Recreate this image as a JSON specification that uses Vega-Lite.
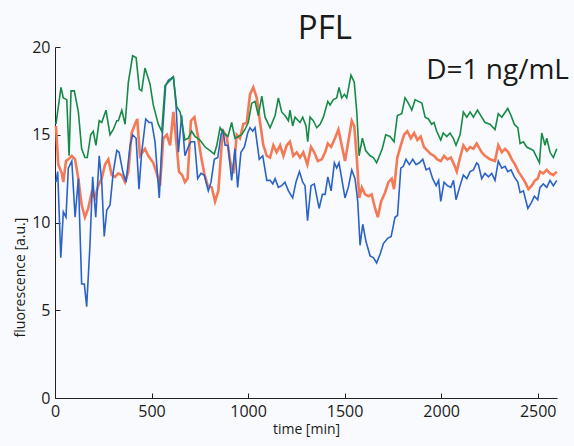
{
  "$schema": "https://vega.github.io/schema/vega-lite/v6.json",
  "autosize": {"type": "none"},
  "width": 502,
  "height": 351,
  "padding": {"left": 55, "top": 47, "right": 17, "bottom": 48},
  "background": "#f9fafd",
  "config": {"view": {"stroke": null}, "font": "Open Sans"},
  "datasets": {
    "green": [
      {"t":5,"v":15.6},{"t":31,"v":17.7},{"t":43,"v":17.1},{"t":61,"v":17.0},{"t":73,"v":13.8},{"t":83,"v":17.5},{"t":100,"v":17.5},{"t":121,"v":16.3},{"t":138,"v":14.2},{"t":155,"v":13.7},{"t":167,"v":13.7},{"t":185,"v":15.0},{"t":198,"v":15.2},{"t":212,"v":14.4},{"t":229,"v":15.8},{"t":242,"v":15.7},{"t":264,"v":16.4},{"t":285,"v":15.0},{"t":302,"v":15.3},{"t":320,"v":15.8},{"t":328,"v":15.8},{"t":346,"v":16.4},{"t":363,"v":15.6},{"t":380,"v":18.0},{"t":402,"v":19.5},{"t":420,"v":19.4},{"t":437,"v":17.6},{"t":449,"v":17.5},{"t":466,"v":18.8},{"t":492,"v":17.9},{"t":509,"v":16.7},{"t":535,"v":15.6},{"t":553,"v":15.2},{"t":570,"v":17.8},{"t":587,"v":18.0},{"t":613,"v":18.3},{"t":630,"v":16.6},{"t":648,"v":16.3},{"t":673,"v":14.7},{"t":690,"v":14.8},{"t":708,"v":15.2},{"t":725,"v":14.9},{"t":751,"v":14.7},{"t":777,"v":14.3},{"t":803,"v":14.1},{"t":825,"v":13.9},{"t":838,"v":14.4},{"t":855,"v":15.4},{"t":872,"v":15.1},{"t":896,"v":14.9},{"t":915,"v":15.7},{"t":932,"v":14.8},{"t":950,"v":14.9},{"t":967,"v":15.0},{"t":984,"v":15.3},{"t":1001,"v":15.7},{"t":1019,"v":16.8},{"t":1036,"v":16.9},{"t":1053,"v":16.1},{"t":1071,"v":17.2},{"t":1088,"v":16.0},{"t":1114,"v":15.4},{"t":1140,"v":16.1},{"t":1157,"v":17.1},{"t":1174,"v":16.3},{"t":1191,"v":16.1},{"t":1209,"v":15.8},{"t":1217,"v":16.4},{"t":1231,"v":15.5},{"t":1243,"v":16.0},{"t":1269,"v":15.7},{"t":1283,"v":16.0},{"t":1300,"v":15.5},{"t":1309,"v":14.6},{"t":1321,"v":16.0},{"t":1338,"v":15.8},{"t":1356,"v":15.4},{"t":1373,"v":15.6},{"t":1390,"v":16.0},{"t":1413,"v":16.9},{"t":1425,"v":16.7},{"t":1442,"v":17.0},{"t":1459,"v":17.1},{"t":1471,"v":17.7},{"t":1485,"v":17.1},{"t":1499,"v":17.3},{"t":1511,"v":17.1},{"t":1533,"v":18.4},{"t":1550,"v":18.0},{"t":1563,"v":16.3},{"t":1575,"v":13.8},{"t":1592,"v":14.8},{"t":1609,"v":14.1},{"t":1632,"v":13.8},{"t":1649,"v":13.7},{"t":1666,"v":13.4},{"t":1695,"v":14.2},{"t":1713,"v":15.0},{"t":1735,"v":14.9},{"t":1756,"v":14.6},{"t":1773,"v":16.1},{"t":1796,"v":16.2},{"t":1813,"v":17.1},{"t":1830,"v":16.8},{"t":1848,"v":16.4},{"t":1865,"v":17.0},{"t":1882,"v":16.9},{"t":1900,"v":16.8},{"t":1917,"v":16.0},{"t":1934,"v":15.9},{"t":1951,"v":15.6},{"t":1963,"v":15.7},{"t":1977,"v":15.2},{"t":1998,"v":14.7},{"t":2011,"v":15.1},{"t":2029,"v":14.9},{"t":2046,"v":15.1},{"t":2063,"v":14.8},{"t":2077,"v":14.4},{"t":2098,"v":15.0},{"t":2115,"v":16.3},{"t":2133,"v":16.0},{"t":2150,"v":16.3},{"t":2167,"v":16.0},{"t":2188,"v":16.4},{"t":2210,"v":16.0},{"t":2227,"v":15.7},{"t":2253,"v":15.6},{"t":2279,"v":15.3},{"t":2296,"v":16.2},{"t":2314,"v":16.0},{"t":2345,"v":16.5},{"t":2362,"v":16.1},{"t":2379,"v":15.6},{"t":2397,"v":15.4},{"t":2409,"v":14.5},{"t":2426,"v":14.6},{"t":2443,"v":14.3},{"t":2461,"v":14.2},{"t":2478,"v":14.1},{"t":2509,"v":13.4},{"t":2521,"v":15.1},{"t":2538,"v":14.4},{"t":2547,"v":14.8},{"t":2564,"v":14.0},{"t":2581,"v":13.7},{"t":2599,"v":14.2}
    ],
    "orange": [
      {"t":5,"v":15.5},{"t":17,"v":13.3},{"t":35,"v":12.8},{"t":43,"v":12.3},{"t":57,"v":13.5},{"t":69,"v":13.6},{"t":87,"v":13.8},{"t":104,"v":13.6},{"t":121,"v":12.5},{"t":138,"v":11.0},{"t":155,"v":10.3},{"t":172,"v":10.8},{"t":190,"v":11.7},{"t":207,"v":11.4},{"t":224,"v":12.1},{"t":242,"v":12.5},{"t":259,"v":13.3},{"t":276,"v":13.6},{"t":294,"v":12.7},{"t":311,"v":12.6},{"t":328,"v":12.8},{"t":346,"v":12.7},{"t":363,"v":12.3},{"t":380,"v":12.9},{"t":397,"v":15.1},{"t":414,"v":15.6},{"t":426,"v":15.9},{"t":440,"v":13.8},{"t":466,"v":14.2},{"t":483,"v":13.8},{"t":509,"v":13.4},{"t":527,"v":12.8},{"t":544,"v":12.1},{"t":561,"v":14.8},{"t":579,"v":15.0},{"t":596,"v":14.4},{"t":613,"v":16.3},{"t":630,"v":14.4},{"t":642,"v":12.9},{"t":659,"v":12.7},{"t":673,"v":12.3},{"t":687,"v":12.5},{"t":704,"v":15.8},{"t":722,"v":16.0},{"t":739,"v":15.0},{"t":756,"v":13.8},{"t":773,"v":12.8},{"t":791,"v":12.1},{"t":812,"v":12.0},{"t":829,"v":11.2},{"t":846,"v":11.8},{"t":863,"v":14.4},{"t":872,"v":15.2},{"t":889,"v":14.9},{"t":907,"v":13.5},{"t":924,"v":12.8},{"t":941,"v":15.0},{"t":958,"v":14.8},{"t":975,"v":15.6},{"t":993,"v":15.7},{"t":1010,"v":17.3},{"t":1027,"v":17.7},{"t":1045,"v":17.1},{"t":1062,"v":15.7},{"t":1079,"v":14.4},{"t":1097,"v":13.8},{"t":1114,"v":13.7},{"t":1131,"v":14.4},{"t":1148,"v":14.0},{"t":1166,"v":14.4},{"t":1183,"v":13.8},{"t":1200,"v":14.4},{"t":1217,"v":14.6},{"t":1234,"v":13.8},{"t":1252,"v":14.0},{"t":1269,"v":13.7},{"t":1286,"v":14.0},{"t":1307,"v":13.3},{"t":1326,"v":14.3},{"t":1343,"v":14.0},{"t":1361,"v":13.5},{"t":1382,"v":13.6},{"t":1399,"v":14.0},{"t":1413,"v":14.5},{"t":1430,"v":14.3},{"t":1450,"v":14.8},{"t":1468,"v":15.3},{"t":1485,"v":14.4},{"t":1502,"v":13.5},{"t":1519,"v":14.6},{"t":1537,"v":15.8},{"t":1550,"v":15.5},{"t":1563,"v":13.7},{"t":1576,"v":11.4},{"t":1589,"v":12.0},{"t":1606,"v":11.6},{"t":1623,"v":11.5},{"t":1640,"v":11.6},{"t":1658,"v":10.8},{"t":1672,"v":10.3},{"t":1689,"v":11.2},{"t":1709,"v":11.7},{"t":1727,"v":12.3},{"t":1744,"v":12.5},{"t":1756,"v":11.9},{"t":1773,"v":13.7},{"t":1791,"v":14.4},{"t":1808,"v":15.0},{"t":1825,"v":15.2},{"t":1843,"v":14.8},{"t":1860,"v":15.1},{"t":1877,"v":14.7},{"t":1894,"v":14.9},{"t":1911,"v":14.3},{"t":1929,"v":14.1},{"t":1946,"v":13.9},{"t":1963,"v":13.8},{"t":1980,"v":13.6},{"t":1998,"v":13.5},{"t":2015,"v":13.8},{"t":2032,"v":13.6},{"t":2050,"v":13.7},{"t":2067,"v":13.3},{"t":2081,"v":12.9},{"t":2098,"v":13.7},{"t":2115,"v":14.4},{"t":2133,"v":14.1},{"t":2150,"v":14.3},{"t":2167,"v":14.2},{"t":2184,"v":14.5},{"t":2210,"v":14.0},{"t":2227,"v":13.8},{"t":2253,"v":13.6},{"t":2279,"v":13.5},{"t":2296,"v":14.4},{"t":2314,"v":14.0},{"t":2331,"v":14.2},{"t":2348,"v":14.0},{"t":2366,"v":13.6},{"t":2383,"v":13.3},{"t":2400,"v":12.9},{"t":2418,"v":12.6},{"t":2435,"v":12.3},{"t":2452,"v":11.9},{"t":2469,"v":12.1},{"t":2486,"v":12.4},{"t":2500,"v":12.5},{"t":2512,"v":12.9},{"t":2529,"v":12.8},{"t":2547,"v":13.0},{"t":2564,"v":12.8},{"t":2581,"v":12.7},{"t":2599,"v":12.9}
    ],
    "blue": [
      {"t":5,"v":12.3},{"t":14,"v":12.9},{"t":30,"v":8.0},{"t":43,"v":10.6},{"t":57,"v":10.3},{"t":69,"v":13.1},{"t":87,"v":13.5},{"t":104,"v":10.3},{"t":121,"v":12.5},{"t":138,"v":6.5},{"t":152,"v":6.5},{"t":164,"v":5.2},{"t":181,"v":8.7},{"t":195,"v":12.6},{"t":211,"v":10.3},{"t":229,"v":13.8},{"t":242,"v":12.3},{"t":255,"v":9.2},{"t":268,"v":10.7},{"t":285,"v":11.0},{"t":302,"v":12.9},{"t":320,"v":14.1},{"t":332,"v":14.0},{"t":351,"v":12.9},{"t":368,"v":12.3},{"t":389,"v":14.4},{"t":402,"v":15.0},{"t":420,"v":14.8},{"t":435,"v":11.9},{"t":449,"v":14.0},{"t":470,"v":15.9},{"t":487,"v":15.7},{"t":501,"v":15.7},{"t":518,"v":14.6},{"t":540,"v":11.4},{"t":556,"v":15.0},{"t":573,"v":17.8},{"t":587,"v":18.1},{"t":613,"v":18.3},{"t":627,"v":16.7},{"t":639,"v":14.0},{"t":656,"v":16.1},{"t":673,"v":13.8},{"t":690,"v":14.3},{"t":704,"v":14.6},{"t":723,"v":14.6},{"t":739,"v":12.5},{"t":756,"v":12.8},{"t":773,"v":12.7},{"t":794,"v":11.8},{"t":808,"v":12.3},{"t":825,"v":13.6},{"t":843,"v":13.7},{"t":860,"v":15.0},{"t":870,"v":15.3},{"t":881,"v":14.4},{"t":896,"v":14.4},{"t":915,"v":12.4},{"t":932,"v":14.2},{"t":946,"v":12.0},{"t":963,"v":14.0},{"t":981,"v":14.3},{"t":998,"v":15.1},{"t":1010,"v":15.4},{"t":1024,"v":15.2},{"t":1036,"v":15.4},{"t":1058,"v":13.6},{"t":1076,"v":13.8},{"t":1097,"v":12.4},{"t":1114,"v":12.4},{"t":1128,"v":12.2},{"t":1140,"v":12.5},{"t":1157,"v":12.0},{"t":1174,"v":12.1},{"t":1191,"v":12.3},{"t":1209,"v":11.8},{"t":1231,"v":11.4},{"t":1248,"v":12.3},{"t":1266,"v":12.9},{"t":1283,"v":12.3},{"t":1295,"v":12.1},{"t":1308,"v":10.1},{"t":1326,"v":12.1},{"t":1343,"v":12.2},{"t":1368,"v":10.8},{"t":1385,"v":11.6},{"t":1399,"v":11.6},{"t":1413,"v":12.6},{"t":1430,"v":11.8},{"t":1447,"v":13.4},{"t":1459,"v":13.1},{"t":1471,"v":13.4},{"t":1485,"v":12.5},{"t":1502,"v":11.4},{"t":1519,"v":12.0},{"t":1537,"v":13.0},{"t":1554,"v":12.5},{"t":1568,"v":11.2},{"t":1580,"v":8.7},{"t":1594,"v":9.9},{"t":1611,"v":8.9},{"t":1632,"v":8.1},{"t":1649,"v":8.0},{"t":1666,"v":7.7},{"t":1684,"v":8.2},{"t":1701,"v":8.8},{"t":1723,"v":9.1},{"t":1741,"v":9.2},{"t":1761,"v":10.3},{"t":1774,"v":10.4},{"t":1791,"v":13.1},{"t":1804,"v":13.2},{"t":1818,"v":13.6},{"t":1835,"v":13.3},{"t":1853,"v":13.6},{"t":1870,"v":13.3},{"t":1887,"v":13.4},{"t":1905,"v":13.6},{"t":1922,"v":13.0},{"t":1939,"v":13.1},{"t":1956,"v":12.5},{"t":1974,"v":12.1},{"t":1987,"v":12.4},{"t":1998,"v":11.2},{"t":2015,"v":12.3},{"t":2032,"v":12.1},{"t":2050,"v":12.0},{"t":2064,"v":12.4},{"t":2077,"v":11.3},{"t":2098,"v":12.1},{"t":2115,"v":12.7},{"t":2133,"v":12.5},{"t":2150,"v":12.9},{"t":2167,"v":13.0},{"t":2184,"v":13.4},{"t":2193,"v":13.3},{"t":2210,"v":12.5},{"t":2227,"v":12.8},{"t":2245,"v":12.6},{"t":2262,"v":12.8},{"t":2279,"v":12.4},{"t":2296,"v":13.5},{"t":2314,"v":13.1},{"t":2331,"v":13.2},{"t":2345,"v":12.9},{"t":2362,"v":13.0},{"t":2379,"v":12.6},{"t":2397,"v":12.3},{"t":2409,"v":11.7},{"t":2426,"v":11.8},{"t":2449,"v":10.8},{"t":2466,"v":11.1},{"t":2483,"v":11.5},{"t":2500,"v":11.3},{"t":2512,"v":12.0},{"t":2529,"v":12.2},{"t":2547,"v":12.0},{"t":2564,"v":12.4},{"t":2581,"v":12.1},{"t":2599,"v":12.4}
    ],
    "titles": [
      {"text": "PFL", "t": 1398, "v": 20.45, "kind": "title"},
      {"text": "D=1 ng/mL", "t": 2662, "v": 18.2, "kind": "dose"}
    ]
  },
  "encoding": {
    "x": {"field": "t", "type": "quantitative", "scale": {"domain": [0, 2600], "nice": false},
      "axis": {"title": "time [min]", "values": [0, 500, 1000, 1500, 2000, 2500], "format": "d", "grid": false, "tickSize": -5, "labelPadding": 10, "labelFontSize": 16, "labelColor": "#1a1a1a", "titleFontSize": 14, "titleFontWeight": "normal", "titleColor": "#1a1a1a", "titlePadding": 3, "domainColor": "#222", "tickColor": "#222", "labelFlush": false}},
    "y": {"field": "v", "type": "quantitative", "scale": {"domain": [0, 20], "nice": false},
      "axis": {"title": "fluorescence [a.u.]", "values": [0, 5, 10, 15, 20], "format": "d", "grid": false, "tickSize": -5, "labelPadding": 10, "labelFontSize": 16, "labelColor": "#1a1a1a", "titleFontSize": 14, "titleFontWeight": "normal", "titleColor": "#1a1a1a", "titlePadding": 4, "titleY": 230, "domainColor": "#222", "tickColor": "#222", "labelFlush": false}}
  },
  "layer": [
    {"data": {"name": "orange"}, "mark": {"type": "line", "color": "#f47a55", "strokeWidth": 2.6}},
    {"data": {"name": "blue"}, "mark": {"type": "line", "color": "#2a62c8", "strokeWidth": 1.6}},
    {"data": {"name": "green"}, "mark": {"type": "line", "color": "#178a48", "strokeWidth": 1.6}},
    {"data": {"name": "titles"}, "transform": [{"filter": "datum.kind == 'title'"}], "mark": {"type": "text", "align": "center", "baseline": "alphabetic", "fontSize": 33, "font": "Open Sans", "color": "#1a1a1a"}, "encoding": {"text": {"field": "text"}}},
    {"data": {"name": "titles"}, "transform": [{"filter": "datum.kind == 'dose'"}], "mark": {"type": "text", "align": "right", "baseline": "alphabetic", "fontSize": 28, "font": "Open Sans", "color": "#1a1a1a"}, "encoding": {"text": {"field": "text"}}}
  ]
}
